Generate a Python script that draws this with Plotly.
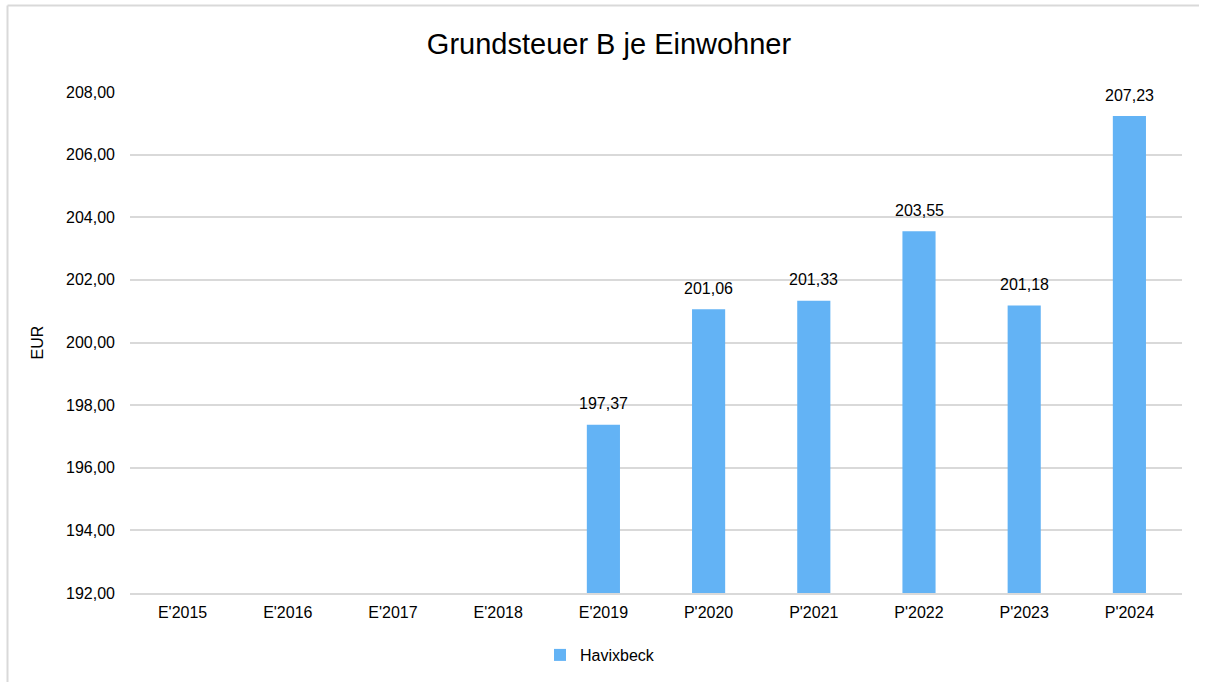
"""Grundsteuer B je Einwohner - bar chart recreated with Plotly."""

import plotly.graph_objects as go

FONT = "Liberation Sans, Arial, sans-serif"
BAR_COLOR = "#63B3F5"
GRID_COLOR = "#D9D9D9"

years = ["E'2015", "E'2016", "E'2017", "E'2018", "E'2019",
         "P'2020", "P'2021", "P'2022", "P'2023", "P'2024"]
havixbeck = [None, None, None, None, 197.37, 201.06, 201.33, 203.55, 201.18, 207.23]
y_ticks = [192, 194, 196, 198, 200, 202, 204, 206, 208]

W, H = 1209, 682
L, R, T, B = 130, 27, 92, 89


def px_to_paper(x, y):
    """Pixel position in the page -> paper coordinates of the plot area."""
    return (x - L) / (W - L - R), (H - B - y) / (H - T - B)


fig = go.Figure(
    go.Bar(
        x=years,
        y=havixbeck,
        name="Havixbeck",
        marker=dict(color=BAR_COLOR, line=dict(width=0)),
        base=0,
    )
)

# value labels above the bars
for cat, val in zip(years, havixbeck):
    if val is None:
        continue
    fig.add_annotation(
        x=cat, y=val, text=f"{val:.2f}".replace(".", ","),
        showarrow=False, yanchor="middle", yshift=21,
        font=dict(family=FONT, size=16, color="#000000"),
    )

# outer chart frame (only left and top edges are visible in the page)
x0, y0 = px_to_paper(7.5, 5.5)
x1, _ = px_to_paper(1199, 5.5)
_, y1 = px_to_paper(7.5, 700)
frame = dict(color=GRID_COLOR, width=2)
fig.add_shape(type="line", xref="paper", yref="paper", x0=x0, y0=y0, x1=x1, y1=y0, line=frame)
fig.add_shape(type="line", xref="paper", yref="paper", x0=x0, y0=y0, x1=x0, y1=y1, line=frame)

leg_x, leg_y = px_to_paper(600, 655)

fig.update_layout(
    width=W, height=H,
    margin=dict(l=L, r=R, t=T, b=B, autoexpand=False),
    paper_bgcolor="white", plot_bgcolor="white",
    separators=",.",
    font=dict(family=FONT, size=16, color="#000000"),
    title=dict(text="Grundsteuer B je Einwohner", x=609 / W, xanchor="center",
               y=1 - 44 / H, yanchor="middle", font=dict(size=29, family=FONT)),
    bargap=0.685,
    showlegend=True,
    legend=dict(orientation="h", x=leg_x, xanchor="center",
                y=leg_y, yanchor="middle", font=dict(size=16), itemwidth=30),
    xaxis=dict(showgrid=False, showline=True, linecolor=GRID_COLOR, linewidth=1.5,
               ticks="", ticklabelstandoff=4, tickfont=dict(size=16), tickangle=0),
    yaxis=dict(range=[192, 208], tickvals=y_ticks, tickformat=".2f",
               showgrid=True, gridcolor=GRID_COLOR, gridwidth=1.5,
               zeroline=False, showline=False, ticks="", ticklabelstandoff=14,
               tickfont=dict(size=16),
               title=dict(text="EUR", standoff=18, font=dict(size=16))),
)

fig.write_html("out.html", config={"displayModeBar": False},
               post_script="document.body.style.margin = '0';")
